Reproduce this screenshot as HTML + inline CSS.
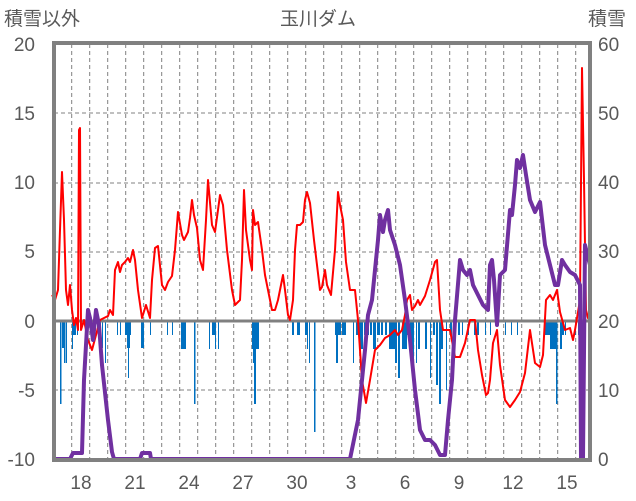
<!DOCTYPE html>
<html><head><meta charset="utf-8"><style>
body{margin:0;background:#fff;}
svg{display:block;font-family:"Liberation Sans","Noto Sans CJK JP",sans-serif;}
</style></head><body>
<svg width="636" height="501" viewBox="0 0 636 501" xmlns="http://www.w3.org/2000/svg">
<g fill="#595959" font-size="19">
<text x="4" y="25" font-size="19">積雪以外</text>
<text x="318" y="25" text-anchor="middle" font-size="19">玉川ダム</text>
<text x="588" y="25" font-size="19">積雪</text>
<g text-anchor="end">
<text x="35" y="51">20</text><text x="35" y="120">15</text><text x="35" y="189">10</text><text x="35" y="258">5</text><text x="35" y="328">0</text><text x="35" y="397">-5</text><text x="35" y="466">-10</text>
</g>
<g>
<text x="598" y="51">60</text><text x="598" y="120">50</text><text x="598" y="189">40</text><text x="598" y="258">30</text><text x="598" y="328">20</text><text x="598" y="397">10</text><text x="598" y="466">0</text>
</g>
<g text-anchor="middle">
<text x="81" y="489">18</text><text x="135" y="489">21</text><text x="189" y="489">24</text><text x="243" y="489">27</text><text x="297" y="489">30</text><text x="351" y="489">3</text><text x="405" y="489">6</text><text x="459" y="489">9</text><text x="513" y="489">12</text><text x="567" y="489">15</text>
</g>
</g>
<g stroke="#808080" stroke-width="1" stroke-dasharray="4,3">
<line x1="54" y1="113" x2="590" y2="113"/><line x1="54" y1="183" x2="590" y2="183"/><line x1="54" y1="252" x2="590" y2="252"/><line x1="54" y1="390" x2="590" y2="390"/>
<line x1="71.7" y1="44" x2="71.7" y2="459"/><line x1="89.7" y1="44" x2="89.7" y2="459"/><line x1="107.7" y1="44" x2="107.7" y2="459"/><line x1="125.7" y1="44" x2="125.7" y2="459"/><line x1="143.7" y1="44" x2="143.7" y2="459"/><line x1="161.7" y1="44" x2="161.7" y2="459"/><line x1="179.7" y1="44" x2="179.7" y2="459"/><line x1="197.7" y1="44" x2="197.7" y2="459"/><line x1="215.7" y1="44" x2="215.7" y2="459"/><line x1="233.7" y1="44" x2="233.7" y2="459"/><line x1="251.7" y1="44" x2="251.7" y2="459"/><line x1="269.7" y1="44" x2="269.7" y2="459"/><line x1="287.7" y1="44" x2="287.7" y2="459"/><line x1="305.7" y1="44" x2="305.7" y2="459"/><line x1="323.7" y1="44" x2="323.7" y2="459"/><line x1="341.7" y1="44" x2="341.7" y2="459"/><line x1="359.7" y1="44" x2="359.7" y2="459"/><line x1="377.7" y1="44" x2="377.7" y2="459"/><line x1="395.7" y1="44" x2="395.7" y2="459"/><line x1="413.7" y1="44" x2="413.7" y2="459"/><line x1="431.7" y1="44" x2="431.7" y2="459"/><line x1="449.7" y1="44" x2="449.7" y2="459"/><line x1="467.7" y1="44" x2="467.7" y2="459"/><line x1="485.7" y1="44" x2="485.7" y2="459"/><line x1="503.7" y1="44" x2="503.7" y2="459"/><line x1="521.7" y1="44" x2="521.7" y2="459"/><line x1="539.7" y1="44" x2="539.7" y2="459"/><line x1="557.7" y1="44" x2="557.7" y2="459"/><line x1="575.7" y1="44" x2="575.7" y2="459"/>
</g>
<g fill="#0070C0">
<rect x="60" y="322" width="1.5" height="82"/><rect x="62" y="322" width="2" height="26"/><rect x="64" y="322" width="1.5" height="41"/><rect x="66" y="322" width="1" height="41"/><rect x="72" y="322" width="1" height="27"/><rect x="73" y="322" width="3" height="13"/><rect x="77" y="322" width="1" height="13"/><rect x="97" y="322" width="1" height="9"/><rect x="100" y="322" width="1" height="13"/><rect x="102" y="322" width="1" height="26"/><rect x="105" y="322" width="1" height="41"/><rect x="117" y="322" width="1" height="13"/><rect x="120" y="322" width="1" height="13"/><rect x="125" y="322" width="6" height="13"/><rect x="127" y="322" width="3" height="26"/><rect x="128" y="322" width="1" height="56"/><rect x="141" y="322" width="3" height="26"/><rect x="150" y="322" width="1" height="13"/><rect x="167" y="322" width="1" height="13"/><rect x="172" y="322" width="1" height="13"/><rect x="181" y="322" width="5" height="27"/><rect x="194" y="322" width="1.5" height="82"/><rect x="209" y="322" width="1" height="27"/><rect x="212" y="322" width="3" height="13"/><rect x="215" y="322" width="1" height="27"/><rect x="218" y="322" width="1" height="27"/><rect x="252" y="322" width="7" height="27"/><rect x="253" y="322" width="3" height="41"/><rect x="254" y="322" width="2" height="82"/><rect x="292" y="322" width="2" height="13"/><rect x="297" y="322" width="3" height="13"/><rect x="305" y="322" width="3" height="13"/><rect x="307" y="322" width="1" height="27"/><rect x="309" y="322" width="1" height="41"/><rect x="314" y="322" width="1.5" height="110"/><rect x="335" y="322" width="6" height="13"/><rect x="336" y="322" width="2" height="41"/>
<rect x="342" y="322" width="4" height="13"/><rect x="353" y="322" width="1" height="41"/><rect x="356" y="322" width="5" height="13"/><rect x="360" y="322" width="3" height="27"/><rect x="364" y="322" width="2" height="13"/><rect x="367" y="322" width="2" height="13"/><rect x="370" y="322" width="2" height="13"/><rect x="373" y="322" width="3" height="27"/><rect x="377" y="322" width="3" height="13"/><rect x="381" y="322" width="2" height="13"/><rect x="385" y="322" width="2" height="13"/><rect x="389" y="322" width="3" height="27"/><rect x="392" y="322" width="3" height="27"/><rect x="395" y="322" width="2" height="41"/><rect x="398" y="322" width="2" height="56"/><rect x="402" y="322" width="3" height="27"/><rect x="404" y="322" width="3" height="27"/><rect x="407" y="322" width="2" height="13"/><rect x="410" y="322" width="3" height="27"/><rect x="413" y="322" width="1" height="41"/><rect x="416" y="322" width="1" height="41"/><rect x="418" y="322" width="2" height="27"/><rect x="425" y="322" width="2" height="27"/><rect x="430" y="322" width="1" height="56"/><rect x="433" y="322" width="2" height="13"/><rect x="436" y="322" width="2" height="63"/><rect x="439" y="322" width="2" height="82"/><rect x="441" y="322" width="2" height="27"/><rect x="446" y="322" width="1" height="68"/><rect x="450" y="322" width="2" height="13"/><rect x="454" y="322" width="1" height="13"/><rect x="458" y="322" width="2" height="13"/><rect x="462" y="322" width="1" height="13"/><rect x="468" y="322" width="1" height="13"/><rect x="474" y="322" width="2" height="13"/><rect x="477" y="322" width="2" height="13"/><rect x="485" y="322" width="1" height="13"/><rect x="490" y="322" width="1" height="13"/><rect x="505" y="322" width="1" height="13"/><rect x="511" y="322" width="1" height="13"/><rect x="517" y="322" width="1" height="13"/><rect x="545" y="322" width="5" height="13"/><rect x="550" y="322" width="4" height="27"/><rect x="554" y="322" width="3" height="27"/><rect x="556" y="322" width="1.5" height="82"/><rect x="560" y="322" width="2" height="27"/><rect x="562" y="322" width="2" height="13"/><rect x="565" y="322" width="1" height="13"/><rect x="575" y="322" width="1" height="13"/><rect x="578" y="322" width="1" height="13"/><rect x="582" y="322" width="1" height="13"/>
</g>
<line x1="54" y1="321" x2="590" y2="321" stroke="#808080" stroke-width="3"/>
<polyline fill="none" stroke="#FF0000" stroke-width="2" stroke-linejoin="round" points="52,295 55,300 58,290 60,230 62,172 64,220 66,290 68,305 70,285 72,310 74,325 76,318 78,330 79,130 80,128 81,330 84,320 88,340 92,350 96,335 100,320 108,316 110,310 113,315 115,270 118,262 120,272 122,265 125,262 128,258 130,262 133,250 135,260 138,290 142,318 146,305 150,318 152,280 155,248 158,246 162,285 165,290 168,282 172,276 175,250 178,212 182,235 184,240 188,232 190,218 192,200 194,215 197,228 200,260 203,270 206,220 208,180 212,225 215,232 218,210 220,195 223,205 227,250 232,290 235,305 240,300 242,260 244,190 246,230 250,260 252,270 253,210 255,225 258,222 262,250 265,275 268,290 272,310 275,310 278,300 281,285 283,275 285,290 288,315 290,320 293,300 295,250 297,225 300,225 303,222 305,200 307,192 310,203 314,240 320,290 322,287 325,270 327,285 331,295 335,250 338,192 340,205 343,220 346,262 350,290 355,290 358,320 362,380 366,403 370,380 375,350 380,345 385,338 390,335 395,330 398,335 402,330 405,315 407,300 410,295 412,310 415,306 418,300 420,305 425,296 430,280 435,262 437,260 440,310 443,330 450,330 455,357 460,357 465,343 470,320 475,320 478,350 482,375 486,395 488,393 490,380 493,343 497,330 500,365 505,400 510,407 515,400 520,392 525,373 530,330 535,363 540,367 543,355 546,300 550,295 553,300 557,290 560,312 565,330 570,328 573,340 575,330 580,300 582,68 584,180 586,310 588,318 590,320"/>
<polyline fill="none" stroke="#7030A0" stroke-width="4" stroke-linejoin="round" points="52,459 70,459 73,453 82,453 84,380 88,310 90,318 93,340 96,310 99,325 102,365 108,420 112,452 114,459 140,459 142,453 150,453 151,459 350,459 358,420 365,350 368,315 372,300 375,270 378,240 380,215 383,232 385,220 388,210 390,230 395,245 400,265 405,300 410,340 415,390 420,430 425,440 430,440 435,445 440,455 445,455 448,420 452,380 455,320 460,260 463,270 467,275 470,270 473,285 478,295 483,305 488,310 490,265 492,260 494,280 497,325 500,275 505,270 510,210 512,215 515,185 517,160 520,168 523,155 526,175 530,200 535,212 540,202 545,245 550,265 555,285 558,285 562,260 565,265 570,272 575,275 580,285 581,459 583,459 585,245 590,265"/>
<rect x="54" y="43" width="536" height="417" fill="none" stroke="#808080" stroke-width="4"/>
</svg>
</body></html>
